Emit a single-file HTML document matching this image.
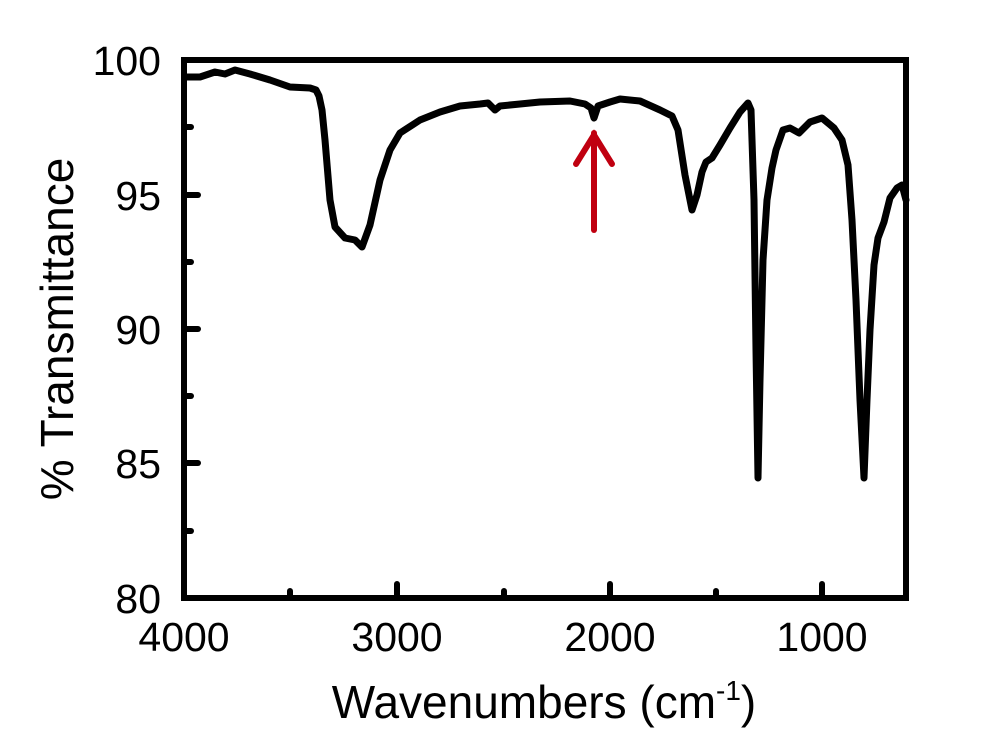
<!DOCTYPE html>
<html><head><style>body{margin:0;background:#fff}svg{display:block}</style></head><body>
<svg width="1000" height="749" viewBox="0 0 1000 749" font-family="Liberation Sans, sans-serif">
<rect width="1000" height="749" fill="#fff"/>
<polyline fill="none" stroke="#000" stroke-width="7" stroke-linejoin="round" stroke-linecap="round" points="185,77 200,77 215,72 225,74 235,70 250,74 270,80 290,87 310,88 316,90 319,96 322,110 325,140 330,200 335,227 345,238 355,240 362,247 370,225 380,180 390,150 400,133 420,120 440,112 460,106 480,104 488,103 495,110 500,106 520,104 540,102 570,101 585,104 591,108 594,118 598,106 610,102 620,99 640,101 660,110 672,116 678,130 685,175 692,210 697,195 702,172 706,162 712,158 720,145 730,128 740,112 748,103 751,110 754,200 756,350 758,478 760,380 763,260 767,200 772,168 776,150 783,130 790,128 799,133 810,122 822,118 834,128 842,140 848,165 852,220 856,300 860,400 864,478 867,400 870,330 874,265 878,238 884,222 890,198 897,188 902,185 906,200"/>
<g stroke="#c00010" stroke-width="6" stroke-linecap="round" fill="none">
<line x1="594" y1="133" x2="594" y2="230"/>
<polyline points="576,164 594,135 612,164"/>
</g>
<rect x="184" y="60" width="722" height="538" fill="none" stroke="#000" stroke-width="6"/>
<g stroke="#000" stroke-width="6" stroke-linecap="round">
<line x1="184" y1="195" x2="198" y2="195"/><line x1="184" y1="329" x2="198" y2="329"/><line x1="184" y1="463" x2="198" y2="463"/>
<line x1="184" y1="127" x2="191" y2="127"/><line x1="184" y1="262" x2="191" y2="262"/><line x1="184" y1="396" x2="191" y2="396"/><line x1="184" y1="531" x2="191" y2="531"/>
<line x1="397" y1="598" x2="397" y2="584"/><line x1="610" y1="598" x2="610" y2="584"/><line x1="822" y1="598" x2="822" y2="584"/>
<line x1="290" y1="598" x2="290" y2="591"/><line x1="504" y1="598" x2="504" y2="591"/><line x1="716" y1="598" x2="716" y2="591"/>
</g>
<g font-size="41" text-anchor="end" fill="#000">
<text x="161" y="75">100</text><text x="161" y="210">95</text><text x="161" y="344">90</text><text x="161" y="478">85</text><text x="161" y="613">80</text>
</g>
<g font-size="41" text-anchor="middle" fill="#000">
<text x="184" y="651">4000</text><text x="397" y="651">3000</text><text x="610" y="651">2000</text><text x="822" y="651">1000</text>
</g>
<text x="544" y="718" font-size="46" text-anchor="middle">Wavenumbers (cm<tspan font-size="28" dy="-18">-1</tspan><tspan dy="18">)</tspan></text>
<text transform="translate(73,329) rotate(-90)" font-size="46" text-anchor="middle">% Transmittance</text>
</svg>
</body></html>
